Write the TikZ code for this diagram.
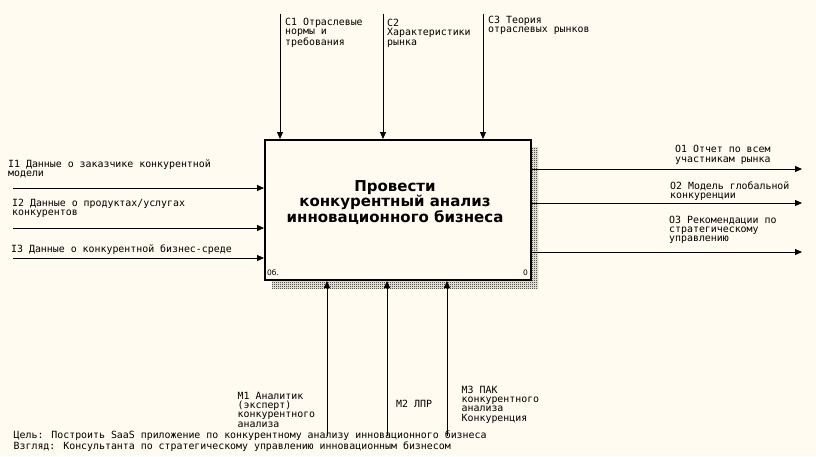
\documentclass[tikz,border=0pt]{standalone}
\usepackage{fontspec}
\setmainfont{DejaVu Sans}
\newfontfamily\lblfont{DejaVu Sans Mono}
\usetikzlibrary{arrows.meta,patterns}
\definecolor{bgc}{RGB}{255,251,240}
\pgfdeclarepatternformonly{checker}{\pgfqpoint{0pt}{0pt}}{\pgfqpoint{2pt}{2pt}}{\pgfqpoint{2pt}{2pt}}{%
  \pgfpathrectangle{\pgfqpoint{0pt}{0pt}}{\pgfqpoint{1pt}{1pt}}%
  \pgfpathrectangle{\pgfqpoint{1pt}{1pt}}{\pgfqpoint{1pt}{1pt}}%
  \pgfusepath{fill}}
\begin{document}
\begin{tikzpicture}[x=1pt,y=-1pt,
  arr/.style={line width=0.9pt,-{Triangle[length=7pt,width=6pt]}},
  lbl/.style={anchor=base west,align=left,inner sep=0pt,font=\lblfont\fontsize{9.9}{9.3}\selectfont},
  small/.style={anchor=base west,inner sep=0pt,font=\fontsize{7.5}{8}\selectfont},
  shadow/.style={pattern=checker,pattern color=black},
]
\fill[bgc] (0,0) rectangle (816,456);
\useasboundingbox (0,0) rectangle (816,456);
\path[shadow] (272,147) rectangle (538,288);
\node[draw,line width=2pt,fill=bgc,minimum width=266pt,minimum height=140pt,inner sep=0pt,anchor=north west] (box) at (264,139) {};
\node[font=\bfseries\fontsize{15}{14.8}\selectfont,align=center,inner sep=0pt] (title) at (395,203) {Провести\\конкурентный анализ\\инновационного бизнеса};
\node[small] (num) at (267,275.5) {0б.};
\node[small] (zero) at (523,275.5) {0};
% free ends
\coordinate (i1) at (13,188);
\coordinate (i2) at (13,228);
\coordinate (i3) at (13,258);
\coordinate (o1) at (802,169);
\coordinate (o2) at (802,203);
\coordinate (o3) at (802,252);
\coordinate (c1) at (280,14);
\coordinate (c2) at (383,14);
\coordinate (c3) at (483,14);
\coordinate (m1) at (327,436);
\coordinate (m2) at (387,436);
\coordinate (m3) at (447,436);
% connectors
\draw[arr] (i1) -- (i1 -| box.west);
\draw[arr] (i2) -- (i2 -| box.west);
\draw[arr] (i3) -- (i3 -| box.west);
\draw[arr] (box.east |- o1) -- (o1);
\draw[arr] (box.east |- o2) -- (o2);
\draw[arr] (box.east |- o3) -- (o3);
\draw[arr] (c1) -- (c1 |- box.north);
\draw[arr] (c2) -- (c2 |- box.north);
\draw[arr] (c3) -- (c3 |- box.north);
\draw[arr] (m1) -- (m1 |- box.south);
\draw[arr] (m2) -- (m2 |- box.south);
\draw[arr] (m3) -- (m3 |- box.south);
% labels (anchor = baseline of the last line)
\node[lbl] (li1) at (8,176.5) {I1 Данные о заказчике конкурентной\\модели};
\node[lbl] (li2) at (12,215.8) {I2 Данные о продуктах/услугах\\конкурентов};
\node[lbl] (li3) at (11,252) {I3 Данные о конкурентной бизнес-среде};
\node[lbl] (lc1) at (285,45.1) {C1 Отраслевые\\нормы и\\требования};
\node[lbl] (lc2) at (387,45) {C2\\Характеристики\\рынка};
\node[lbl] (lc3) at (488,32.3) {C3 Теория\\отраслевых рынков};
\node[lbl] (lo1) at (675,162) {O1 Отчет по всем\\участникам рынка};
\node[lbl] (lo2) at (670,198.5) {O2 Модель глобальной\\конкуренции};
\node[lbl] (lo3) at (669,241.7) {O3 Рекомендации по\\стратегическому\\управлению};
\node[lbl] (lm1) at (237.5,427.2) {M1 Аналитик\\(эксперт)\\конкурентного\\анализа};
\node[lbl] (lm2) at (396,407) {M2 ЛПР};
\node[lbl] (lm3) at (461.5,421.2) {M3 ПАК\\конкурентного\\анализа\\Конкуренция};
\node[lbl] (goal) at (13.5,449) {Цель: Построить SaaS приложение по конкурентному анализу инновационного бизнеса\\Взгляд: Консультанта по стратегическому управлению инновационным бизнесом};
\end{tikzpicture}
\end{document}
